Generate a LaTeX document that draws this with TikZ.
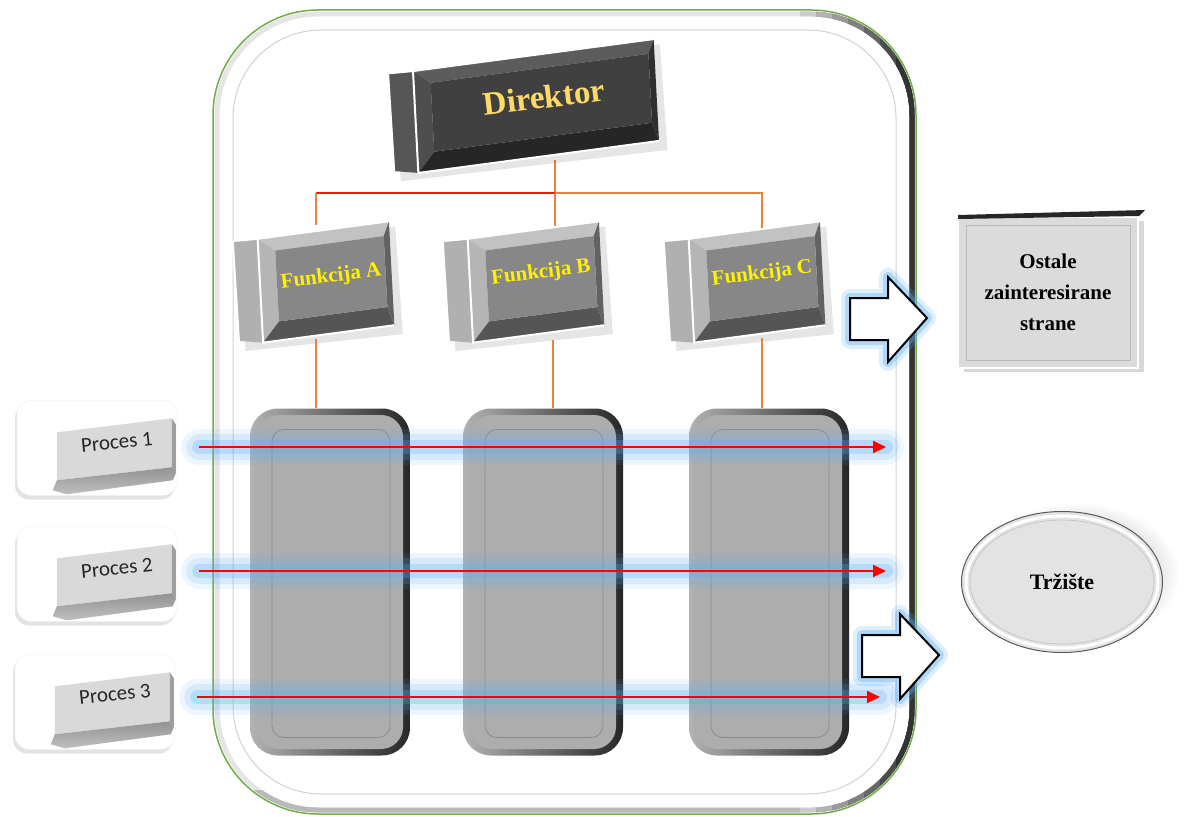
\documentclass[tikz,border=0pt]{standalone}
\usepackage{fontspec}
\setmainfont{Liberation Serif}
\newfontfamily\procfont{Carlito}
\usetikzlibrary{arrows.meta,shadows,shapes.geometric}

\definecolor{dirface}{HTML}{404040}
\definecolor{dirtop}{HTML}{5C5C5C}
\definecolor{dirleft}{HTML}{4E4E4E}
\definecolor{dirbottom}{HTML}{262626}
\definecolor{dirright}{HTML}{2F2F2F}
\definecolor{dirside}{HTML}{565656}
\definecolor{funface}{HTML}{878787}
\definecolor{funtop}{HTML}{C2C2C2}
\definecolor{funleft}{HTML}{B5B5B5}
\definecolor{funbottom}{HTML}{555555}
\definecolor{funright}{HTML}{626262}
\definecolor{funside}{HTML}{B0B0B0}
\definecolor{gold}{HTML}{FFD966}
\definecolor{linkorange}{HTML}{E9843F}
\definecolor{glowblue}{HTML}{5AAEF5}
\definecolor{contgreen}{HTML}{70AD47}
\definecolor{colgray}{HTML}{ADADAD}
\definecolor{procface}{HTML}{D9D9D9}

% bevelled key: centre, half width, half height, colour prefix
\newcommand{\bevelkey}[4]{%
  \begin{scope}[shift={#1},rotate=3,yslant=0.08]
    \fill[black,opacity=.10] (-#2-20,-#3+8) -- (#2+6,-#3+6) -- (#2+8,#3+10) -- (-#2-18,#3+6) -- cycle;
    \fill[#4side] (-#2-25,-#3-1) -- (-#2,-#3) -- (-#2,#3) -- (-#2-24,#3-5) -- cycle;
    \fill[#4top] (-#2,-#3) -- (#2,-#3) -- (#2-6,-#3+14) -- (-#2+17,-#3+14) -- cycle;
    \fill[#4left] (-#2,-#3) -- (-#2+17,-#3+14) -- (-#2+17,#3-19) -- (-#2,#3) -- cycle;
    \fill[#4bottom] (-#2,#3) -- (-#2+17,#3-19) -- (#2-6,#3-19) -- (#2,#3) -- cycle;
    \fill[#4right] (#2,-#3) -- (#2,#3) -- (#2-6,#3-19) -- (#2-6,-#3+14) -- cycle;
    \fill[#4face] (-#2+17,-#3+14) rectangle (#2-6,#3-19);
    \draw[white,line width=2,line join=round] (-#2-24,#3-5) -- (-#2-25,-#3-1) -- (-#2,-#3) -- (#2,-#3);
    \draw[white,line width=2] (-#2,-#3) -- (-#2,#3) -- (#2,#3);
  \end{scope}}

% process key face inside its white box
\newcommand{\proceskey}[1]{%
  \begin{scope}[shift={(#1.north west)}]
    \fill[procface] (40,32) -- (155,18) -- (155,67) -- (40,80) -- cycle;
    \fill[gray!75] (155,18) -- (159,24) -- (159,73) -- (155,67) -- cycle;
    \shade[top color=gray!85, bottom color=gray!50] (40,80) -- (155,67) -- (159,73) -- (156,80) -- (50,94) -- (36,90) -- cycle;
  \end{scope}}

\tikzset{
  link/.style={draw=linkorange, line width=1.1},
  dirlabel/.style={text=gold, font=\bfseries\fontsize{33}{38}\selectfont, rotate=7},
  funlabel/.style={text=yellow, font=\bfseries\fontsize{21}{24}\selectfont, rotate=7},
  procbox/.style={rounded corners=14, fill=white, draw=gray!15, minimum width=160, minimum height=95,
    drop shadow={opacity=.22, shadow xshift=-2pt, shadow yshift=-4pt}},
  proclabel/.style={text=black!85, font=\procfont\fontsize{21}{25}\selectfont, rotate=6},
  column/.style={rounded corners=28, minimum width=160, minimum height=347, inner sep=0,
    left color=gray!60, right color=black!85},
  colface/.style={rounded corners=22, minimum width=146, minimum height=334, inner sep=0, fill=colgray},
  colrim/.style={draw=black!45, line width=.8, rounded corners=12, minimum width=118, minimum height=308, inner sep=0},
  flow/.style={draw=red, line width=2, shorten <=22pt, -{Triangle[length=13pt,width=12pt]},
    preaction={-, draw=glowblue, draw opacity=.10, line width=36, line cap=round},
    preaction={-, draw=glowblue, draw opacity=.16, line width=26, line cap=round},
    preaction={-, draw=glowblue, draw opacity=.25, line width=14, line cap=round}},
  blockarrow/.style={fill=white, draw=black, line width=2,
    preaction={draw=glowblue, draw opacity=.2, line width=18, line join=round},
    preaction={draw=glowblue, draw opacity=.35, line width=10, line join=round}},
  ostbox/.style={fill=gray!28, draw=white, line width=2, minimum width=180, minimum height=151,
    align=center, font=\bfseries\fontsize{21}{31}\selectfont,
    drop shadow={opacity=.3, shadow xshift=6pt, shadow yshift=-4pt}},
  trzbox/.style={ellipse, fill=gray!22, draw=black!65, line width=1, minimum width=201,
    minimum height=141, inner sep=0, font=\bfseries\fontsize{22}{26}\selectfont}
}

\begin{document}
\begin{tikzpicture}[x=1pt,y=-1pt]
  \useasboundingbox (0,0) rectangle (1185,816);
  \fill[white] (0,0) rectangle (1185,816);

  % container
  \draw[contgreen, fill=white, line width=1.5, rounded corners=105] (213,10) rectangle (916,814);
  \draw[gray!20, line width=5, rounded corners=101] (217,14) rectangle (912,810);
  \foreach \i in {0,...,6}{
    \pgfmathtruncatemacro{\tone}{20+10*\i}
    \begin{scope}
      \clip (800+16*\i,0) rectangle (1185,816);
      \draw[black!\tone, line width=5, rounded corners=101] (217,14) rectangle (912,810);
    \end{scope}
  }
  \begin{scope}
    \clip (0,790) rectangle (800,816);
    \draw[gray!55, line width=5, rounded corners=101] (217,14) rectangle (912,810);
  \end{scope}
  \draw[gray!35, line width=1, rounded corners=88] (233,30) rectangle (896,794);

  % org chart lines
  \coordinate (hub) at (555,193);
  \coordinate (dirbot) at (555,160);
  \coordinate (fatop) at (316,225);
  \coordinate (fbtop) at (555,233);
  \coordinate (fctop) at (762,232);
  \coordinate (fabot) at (316,339);
  \coordinate (fbbot) at (553,340);
  \coordinate (fcbot) at (762,338);
  \draw[link] (dirbot) -- (hub);
  \draw[link, draw=red!85!orange] (hub) -- (hub -| fatop);
  \draw[link] (hub -| fatop) -- (fatop);
  \draw[link] (hub) -- (fbtop);
  \draw[link] (hub) -| (fctop);

  % keys
  \bevelkey{(536,106)}{121}{51}{dir}
  \bevelkey{(326,282)}{66}{52}{fun}
  \bevelkey{(536,282)}{66}{52}{fun}
  \bevelkey{(757,282)}{66}{52}{fun}
  \node[dirlabel] (direktor) at (544,97) {Direktor};
  \node[funlabel] (funA) at (331,277) {Funkcija A};
  \node[funlabel] (funB) at (541,273) {Funkcija B};
  \node[funlabel] (funC) at (762,274) {Funkcija C};

  % columns
  \foreach \n/\x in {c1/330, c2/543, c3/769}{
    \node[column] (\n) at (\x,582) {};
    \node[colface] at (\n) {};
    \node[colrim] at ([xshift=1pt,yshift=-1.5pt]\n.center) {};
  }
  \draw[link] (fabot) -- (fabot |- c1.north);
  \draw[link] (fbbot) -- (fbbot |- c2.north);
  \draw[link] (fcbot) -- (fcbot |- c3.north);

  % processes
  \node[procbox] (p1) at (97,448) {};
  \node[procbox] (p2) at (97,574) {};
  \node[procbox] (p3) at (95,702) {};
  \proceskey{p1}
  \proceskey{p2}
  \proceskey{p3}
  \node[proclabel] (p1t) at ([shift={(100,42)}]p1.north west) {Proces 1};
  \node[proclabel] (p2t) at ([shift={(100,42)}]p2.north west) {Proces 2};
  \node[proclabel] (p3t) at ([shift={(100,40)}]p3.north west) {Proces 3};

  \coordinate (e1) at (886,447);
  \coordinate (e2) at (886,571);
  \coordinate (e3) at (880,697);
  \draw[flow] (p1.east |- e1) -- (e1);
  \draw[flow] (p2.east |- e2) -- (e2);
  \draw[flow] (p3.east |- e3) -- (e3);

  % block arrows
  \foreach \ax/\ay in {850/298, 862/635}
    \draw[blockarrow, shift={(\ax,\ay)}] (0,0) -- (38,0) -- (38,-21) -- (77,20) -- (38,64) -- (38,42) -- (0,42) -- cycle;

  % stakeholders
  \node[ostbox] (ost) at (1048,292) {Ostale\\zainteresirane\\strane};
  \fill[black!85] (958,215) -- (1145,210) -- (1139,216) -- (958,219) -- cycle;
  \draw[gray!55, line width=.7] (966,225) rectangle (1130,360);

  % market
  \shade[inner color=gray!90, outer color=white] (1076,574) ellipse [x radius=104, y radius=72];
  \node[trzbox] (trz) at (1062,582) {Tržište};
  \draw[white, line width=3] (trz.center) ellipse [x radius=96, y radius=66];
  \draw[gray!50, line width=.6] (trz.center) ellipse [x radius=92, y radius=62];
\end{tikzpicture}
\end{document}
